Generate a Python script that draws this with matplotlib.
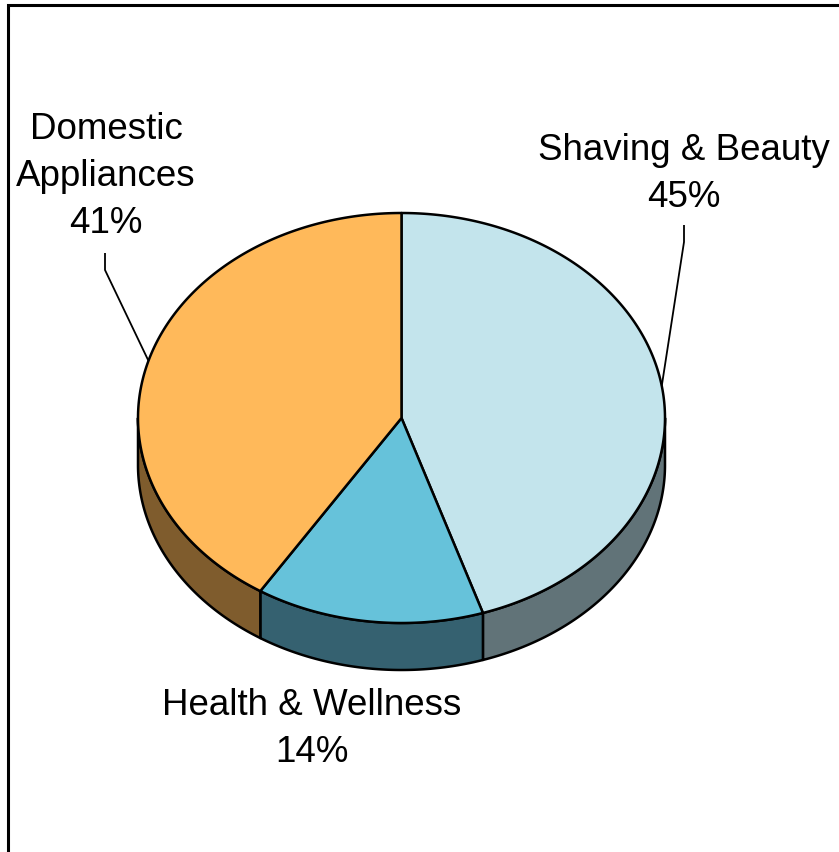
import numpy as np
import matplotlib
matplotlib.use("Agg")
import matplotlib.pyplot as plt
from matplotlib.patches import Polygon

plt.rcParams['font.family'] = ['Liberation Sans', 'DejaVu Sans']

# Segment shares (%)
categories = ["Shaving & Beauty", "Health & Wellness", "Domestic Appliances"]
shares = [45, 14, 41]
label_lines = [["Shaving & Beauty", "45%"],
               ["Health & Wellness", "14%"],
               ["Domestic", "Appliances", "41%"]]
top_colors = ["#C3E4EC", "#66C2DA", "#FFB95A"]
side_colors = ["#617378", "#356170", "#7F5C2D"]

W, H = 839, 852
fig = plt.figure(figsize=(W / 100, H / 100), dpi=100)
ax = fig.add_axes([0, 0, 1, 1])
ax.set_xlim(0, W)
ax.set_ylim(H, 0)
ax.axis("off")

# Pie geometry in pixel space (angles clockwise from 12 o'clock)
cx, cy, rx, ry, depth = 401.5, 418.0, 263.5, 205.0, 47.0


def pt(deg, dy=0.0):
    t = np.radians(deg)
    return cx + rx * np.sin(t), cy - ry * np.cos(t) + dy


def arc(a0, a1, dy=0.0, n=200):
    ts = np.linspace(a0, a1, n)
    xs, ys = pt(ts, dy)
    return np.column_stack([xs, ys])


bounds = np.concatenate([[0], np.cumsum(shares)]) / sum(shares) * 360.0
lw = 1.8

# Side walls (only the front half, 90..270 deg, is visible)
for i in range(len(shares)):
    a0, a1 = max(bounds[i], 90), min(bounds[i + 1], 270)
    if a1 <= a0:
        continue
    top = arc(a0, a1)
    bot = arc(a0, a1, depth)[::-1]
    ax.add_patch(Polygon(np.vstack([top, bot]), closed=True,
                         facecolor=side_colors[i], edgecolor="black",
                         linewidth=lw, joinstyle="round", zorder=2))

# Top faces
for i in range(len(shares)):
    poly = np.vstack([[cx, cy], arc(bounds[i], bounds[i + 1])])
    ax.add_patch(Polygon(poly, closed=True, facecolor=top_colors[i],
                         edgecolor="black", linewidth=lw,
                         joinstyle="round", zorder=3))

# Labels
fs = 26.5
label_pos = [(684, 160), (312, 715), (106, 139)]
step = 47
for lines, (x, y) in zip(label_lines, label_pos):
    for k, s in enumerate(lines):
        ax.text(x, y + k * step, s, fontsize=fs, ha="center",
                va="baseline", color="black", zorder=5)

# Leader lines for the two side labels
mids = (bounds[:-1] + bounds[1:]) / 2
leaders = {0: (684, 225, 242), 2: (105, 253, 270)}
for i, (lx, ly0, ly1) in leaders.items():
    ex, ey = pt(mids[i])
    ax.plot([lx, lx, ex], [ly0, ly1, ey], color="black", linewidth=1.3,
            zorder=4, solid_capstyle="butt")

# Chart area frame (left and top edges)
ax.plot([7.5, 7.5, W], [H, 5.3, 5.3], color="black", linewidth=2.2,
        zorder=6, solid_joinstyle="miter")

fig.savefig("out.png", dpi=100)
